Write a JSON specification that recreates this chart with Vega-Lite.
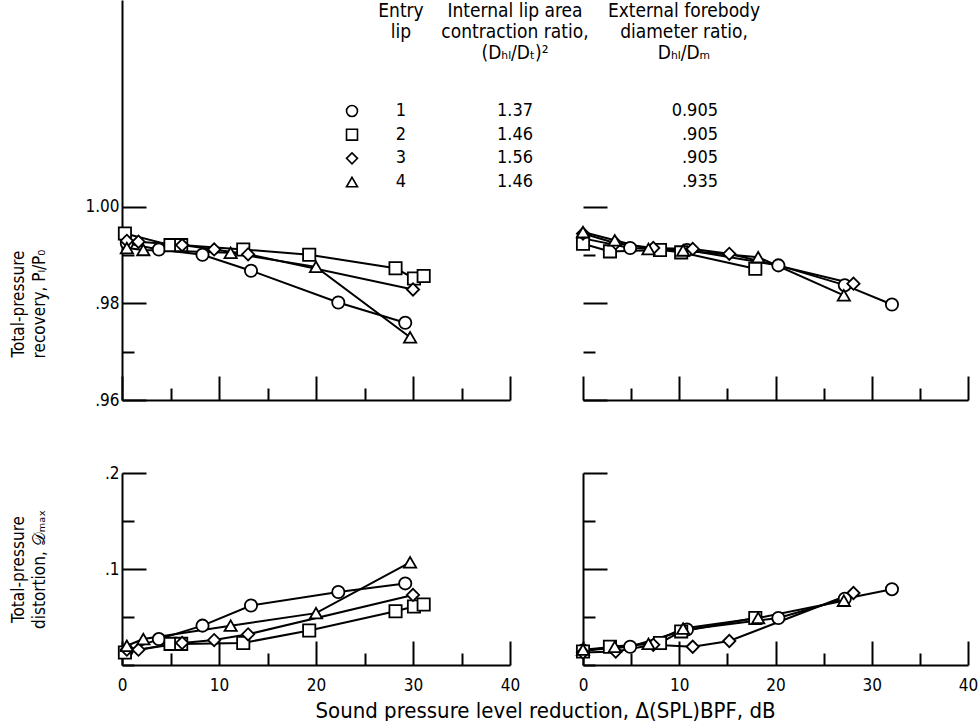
{
  "$schema": "https://vega.github.io/schema/vega-lite/v6.json",
  "autosize": {"type": "none"},
  "padding": {"left": 122, "top": 0, "right": 856, "bottom": 721},
  "config": {
    "font": "DejaVu Sans Condensed, DejaVu Sans",
    "view": {"stroke": null},
    "axis": {
      "grid": false, "domainColor": "black", "domainWidth": 2, "tickColor": "black", "tickWidth": 2,
      "labelColor": "black", "labelFontSize": 17, "titleColor": "black", "titleFontSize": 17,
      "titleFontWeight": "normal", "labelFlush": false, "labelOverlap": false, "labelBound": false,
      "labelFont": "DejaVu Sans Condensed, DejaVu Sans",
      "titleFont": "DejaVu Sans Condensed, DejaVu Sans"
    },
    "text": {"color": "black", "font": "DejaVu Sans Condensed, DejaVu Sans"}
  },
  "datasets": {
    "pts": [
      {"side": "left", "lip": 1, "spl": 0.5, "recovery": 0.9925, "distortion": 0.015},
      {"side": "left", "lip": 1, "spl": 3.8, "recovery": 0.9912, "distortion": 0.027},
      {"side": "left", "lip": 1, "spl": 8.3, "recovery": 0.9901, "distortion": 0.041},
      {"side": "left", "lip": 1, "spl": 13.3, "recovery": 0.9868, "distortion": 0.062},
      {"side": "left", "lip": 1, "spl": 22.3, "recovery": 0.9802, "distortion": 0.076},
      {"side": "left", "lip": 1, "spl": 29.2, "recovery": 0.976, "distortion": 0.085},
      {"side": "left", "lip": 2, "spl": 0.3, "recovery": 0.9945, "distortion": 0.013},
      {"side": "left", "lip": 2, "spl": 5.0, "recovery": 0.9921, "distortion": 0.022},
      {"side": "left", "lip": 2, "spl": 6.1, "recovery": 0.9921, "distortion": 0.022},
      {"side": "left", "lip": 2, "spl": 12.5, "recovery": 0.9912, "distortion": 0.023},
      {"side": "left", "lip": 2, "spl": 19.3, "recovery": 0.9901, "distortion": 0.036},
      {"side": "left", "lip": 2, "spl": 28.2, "recovery": 0.9873, "distortion": 0.056},
      {"side": "left", "lip": 2, "spl": 30.1, "recovery": 0.9852, "distortion": 0.061},
      {"side": "left", "lip": 2, "spl": 31.1, "recovery": 0.9857, "distortion": 0.063},
      {"side": "left", "lip": 3, "spl": 0.5, "recovery": 0.993, "distortion": 0.016},
      {"side": "left", "lip": 3, "spl": 1.7, "recovery": 0.9928, "distortion": 0.016},
      {"side": "left", "lip": 3, "spl": 6.2, "recovery": 0.9921, "distortion": 0.023},
      {"side": "left", "lip": 3, "spl": 9.5, "recovery": 0.9912, "distortion": 0.026},
      {"side": "left", "lip": 3, "spl": 13.0, "recovery": 0.9902, "distortion": 0.032},
      {"side": "left", "lip": 3, "spl": 30.0, "recovery": 0.9829, "distortion": 0.073},
      {"side": "left", "lip": 4, "spl": 0.5, "recovery": 0.9915, "distortion": 0.02},
      {"side": "left", "lip": 4, "spl": 2.2, "recovery": 0.9911, "distortion": 0.027},
      {"side": "left", "lip": 4, "spl": 11.2, "recovery": 0.9905, "distortion": 0.041},
      {"side": "left", "lip": 4, "spl": 20.0, "recovery": 0.9876, "distortion": 0.054},
      {"side": "left", "lip": 4, "spl": 29.7, "recovery": 0.973, "distortion": 0.107},
      {"side": "right", "lip": 1, "spl": 0.0, "recovery": 0.9935, "distortion": 0.015},
      {"side": "right", "lip": 1, "spl": 4.9, "recovery": 0.9915, "distortion": 0.019},
      {"side": "right", "lip": 1, "spl": 10.8, "recovery": 0.9911, "distortion": 0.037},
      {"side": "right", "lip": 1, "spl": 20.3, "recovery": 0.9879, "distortion": 0.049},
      {"side": "right", "lip": 1, "spl": 27.2, "recovery": 0.9838, "distortion": 0.069},
      {"side": "right", "lip": 1, "spl": 32.1, "recovery": 0.9798, "distortion": 0.079},
      {"side": "right", "lip": 2, "spl": 0.0, "recovery": 0.9924, "distortion": 0.014},
      {"side": "right", "lip": 2, "spl": 2.8, "recovery": 0.9908, "distortion": 0.019},
      {"side": "right", "lip": 2, "spl": 8.0, "recovery": 0.9911, "distortion": 0.023},
      {"side": "right", "lip": 2, "spl": 10.2, "recovery": 0.9906, "distortion": 0.035},
      {"side": "right", "lip": 2, "spl": 17.9, "recovery": 0.9872, "distortion": 0.049},
      {"side": "right", "lip": 3, "spl": 0.0, "recovery": 0.9945, "distortion": 0.013},
      {"side": "right", "lip": 3, "spl": 3.4, "recovery": 0.9925, "distortion": 0.014},
      {"side": "right", "lip": 3, "spl": 7.3, "recovery": 0.9915, "distortion": 0.021},
      {"side": "right", "lip": 3, "spl": 11.4, "recovery": 0.9913, "distortion": 0.019},
      {"side": "right", "lip": 3, "spl": 15.2, "recovery": 0.9903, "distortion": 0.025},
      {"side": "right", "lip": 3, "spl": 28.1, "recovery": 0.9841, "distortion": 0.075},
      {"side": "right", "lip": 4, "spl": 0.0, "recovery": 0.9948, "distortion": 0.016},
      {"side": "right", "lip": 4, "spl": 3.3, "recovery": 0.9931, "distortion": 0.019},
      {"side": "right", "lip": 4, "spl": 6.8, "recovery": 0.9913, "distortion": 0.022},
      {"side": "right", "lip": 4, "spl": 10.4, "recovery": 0.991, "distortion": 0.038},
      {"side": "right", "lip": 4, "spl": 18.2, "recovery": 0.9896, "distortion": 0.049},
      {"side": "right", "lip": 4, "spl": 27.1, "recovery": 0.9817, "distortion": 0.067}
    ],
    "legend": [
      {"lip": 1, "contraction": "1.37", "diameter": "0.905"},
      {"lip": 2, "contraction": "1.46", "diameter": ".905"},
      {"lip": 3, "contraction": "1.56", "diameter": ".905"},
      {"lip": 4, "contraction": "1.46", "diameter": ".935"}
    ],
    "legendHead": [
      {"col": 1, "text": "Entry\nlip"},
      {"col": 2, "text": "Internal lip area\ncontraction ratio,\n(Dₕₗ/Dₜ)²"},
      {"col": 3, "text": "External forebody\ndiameter ratio,\nDₕₗ/Dₘ"}
    ]
  },
  "columns": 2,
  "spacing": 73,
  "bounds": "flush",
  "concat": [
    {
      "width": 388, "height": 400,
      "layer": [
        {
          "data": {"name": "pts"},
          "transform": [{"filter": "datum.side === 'left'"}],
          "encoding": {
            "x": {"field": "spl", "type": "quantitative", "scale": {"domain": [0, 40], "nice": false, "zero": false},
              "axis": {"values": [0, 5, 10, 15, 20, 25, 30, 35, 40], "labels": false, "title": null,
                "tickSize": {"condition": {"test": "datum.value % 10 === 0", "value": -24}, "value": -12}}},
            "y": {"field": "recovery", "type": "quantitative", "scale": {"domain": [0.96, 1.0429], "nice": false, "zero": false},
              "axis": {"values": [0.96, 0.97, 0.98, 0.99, 1.0],
                "tickSize": {"condition": {"test": "round(datum.value*100) % 2 === 0", "value": -24}, "value": -12},
                "labelExpr": "round(datum.value*100) % 2 === 0 ? (datum.value >= 0.999 ? '1.00' : replace(format(datum.value, '.2f'), '0.', '.')) : ''",
                "labelPadding": 27,
                "title": ["Total-pressure", "recovery, Pₗ/P₀"], "titleX": -95, "titleY": 303.5, "titleLineHeight": 21}}
          },
          "layer": [
            {"mark": {"type": "line", "color": "black", "strokeWidth": 2}, "encoding": {"detail": {"field": "lip", "type": "nominal"}}},
            {"mark": {"type": "point", "filled": true, "fill": "white", "stroke": "black", "strokeWidth": 1.8, "size": 150, "opacity": 1},
              "encoding": {"shape": {"field": "lip", "type": "nominal", "scale": {"domain": [1, 2, 3, 4], "range": ["circle", "square", "diamond", "triangle-up"]}, "legend": null}}}
          ]
        },
        {
          "layer": [
            {
              "data": {"name": "legend"},
              "mark": {"type": "point", "filled": true, "fill": "white", "stroke": "black", "strokeWidth": 1.6, "size": 120, "opacity": 1},
              "encoding": {
                "x": {"datum": 0, "type": "quantitative", "scale": {"type": "linear", "domain": [0, 1, 2, 3, 4], "range": [230, 279, 393, 562, 596], "nice": false, "zero": false}, "axis": null},
                "y": {"field": "lip", "type": "quantitative", "scale": {"type": "linear", "domain": [0, 1, 4], "range": [2, 111, 182], "nice": false, "zero": false}, "axis": null},
                "shape": {"field": "lip", "type": "nominal", "scale": {"domain": [1, 2, 3, 4], "range": ["circle", "square", "diamond", "triangle-up"]}, "legend": null}
              }
            },
            {
              "data": {"name": "legend"},
              "mark": {"type": "text", "fontSize": 18, "align": "center", "baseline": "middle"},
              "encoding": {
                "x": {"datum": 1, "type": "quantitative", "axis": null},
                "y": {"field": "lip", "type": "quantitative", "axis": null},
                "text": {"field": "lip", "type": "nominal"}
              }
            },
            {
              "data": {"name": "legend"},
              "mark": {"type": "text", "fontSize": 18, "align": "center", "baseline": "middle"},
              "encoding": {
                "x": {"datum": 2, "type": "quantitative", "axis": null},
                "y": {"field": "lip", "type": "quantitative", "axis": null},
                "text": {"field": "contraction", "type": "nominal"}
              }
            },
            {
              "data": {"name": "legend"},
              "mark": {"type": "text", "fontSize": 18, "align": "right", "baseline": "middle"},
              "encoding": {
                "x": {"datum": 4, "type": "quantitative", "axis": null},
                "y": {"field": "lip", "type": "quantitative", "axis": null},
                "text": {"field": "diameter", "type": "nominal"}
              }
            },
            {
              "data": {"name": "legendHead"},
              "mark": {"type": "text", "fontSize": 19, "align": "center", "baseline": "top", "lineBreak": "\n", "lineHeight": 21},
              "encoding": {
                "x": {"field": "col", "type": "quantitative", "axis": null},
                "y": {"datum": 0, "type": "quantitative", "axis": null},
                "text": {"field": "text", "type": "nominal"}
              }
            }
          ]
        }
      ],
      "resolve": {"scale": {"x": "independent", "y": "independent"}, "axis": {"x": "independent", "y": "independent"}}
    },
    {
      "width": 385, "height": 400,
      "data": {"name": "pts"},
      "transform": [{"filter": "datum.side === 'right'"}],
      "encoding": {
        "x": {"field": "spl", "type": "quantitative", "scale": {"domain": [0, 40], "nice": false, "zero": false},
          "axis": {"values": [0, 5, 10, 15, 20, 25, 30, 35, 40], "labels": false, "title": null,
            "tickSize": {"condition": {"test": "datum.value % 10 === 0", "value": -24}, "value": -12}}},
        "y": {"field": "recovery", "type": "quantitative", "scale": {"domain": [0.96, 1.0429], "nice": false, "zero": false},
          "axis": {"values": [0.96, 0.97, 0.98, 0.99, 1.0], "labels": false, "domain": false, "title": null,
            "tickSize": {"condition": {"test": "round(datum.value*100) % 2 === 0", "value": -24}, "value": -12}}}
      },
      "layer": [
        {"data": {"values": [{}]}, "mark": {"type": "rule", "color": "black", "strokeWidth": 2},
          "encoding": {"x": {"datum": 0, "type": "quantitative"}, "y": {"datum": 0.96, "type": "quantitative"}, "y2": {"datum": 1.0}}},
        {"mark": {"type": "line", "color": "black", "strokeWidth": 2}, "encoding": {"detail": {"field": "lip", "type": "nominal"}}},
        {"mark": {"type": "point", "filled": true, "fill": "white", "stroke": "black", "strokeWidth": 1.8, "size": 150, "opacity": 1},
          "encoding": {"shape": {"field": "lip", "type": "nominal", "scale": {"domain": [1, 2, 3, 4], "range": ["circle", "square", "diamond", "triangle-up"]}, "legend": null}}}
      ]
    },
    {
      "width": 388, "height": 192,
      "data": {"name": "pts"},
      "transform": [{"filter": "datum.side === 'left'"}],
      "encoding": {
        "x": {"field": "spl", "type": "quantitative", "scale": {"domain": [0, 40], "nice": false, "zero": false},
          "axis": {"values": [0, 5, 10, 15, 20, 25, 30, 35, 40],
            "labelExpr": "datum.value % 10 === 0 ? datum.label : ''", "labelPadding": 36,
            "tickSize": {"condition": {"test": "datum.value % 10 === 0", "value": -24}, "value": -12},
            "title": "Sound pressure level reduction, Δ(SPL)BPF, dB", "titleX": 423, "titleY": 45,
            "titleAlign": "center", "titleBaseline": "middle", "titleFontSize": 22}},
        "y": {"field": "distortion", "type": "quantitative", "scale": {"domain": [0, 0.2], "nice": false, "zero": false},
          "axis": {"values": [0, 0.05, 0.1, 0.15, 0.2],
            "tickSize": {"condition": {"test": "abs(datum.value-0.1) < 0.000001 || abs(datum.value-0.2) < 0.000001", "value": -24}, "value": -12},
            "labelExpr": "abs(datum.value-0.1) < 0.000001 ? '.1' : (abs(datum.value-0.2) < 0.000001 ? '.2' : '')",
            "labelPadding": 27,
            "title": ["Total-pressure", "distortion, 𝒟ₘₐₓ"], "titleX": -95, "titleY": 96, "titleLineHeight": 21}}
      },
      "layer": [
        {"mark": {"type": "line", "color": "black", "strokeWidth": 2}, "encoding": {"detail": {"field": "lip", "type": "nominal"}}},
        {"mark": {"type": "point", "filled": true, "fill": "white", "stroke": "black", "strokeWidth": 1.8, "size": 150, "opacity": 1},
          "encoding": {"shape": {"field": "lip", "type": "nominal", "scale": {"domain": [1, 2, 3, 4], "range": ["circle", "square", "diamond", "triangle-up"]}, "legend": null}}}
      ]
    },
    {
      "width": 385, "height": 192,
      "data": {"name": "pts"},
      "transform": [{"filter": "datum.side === 'right'"}],
      "encoding": {
        "x": {"field": "spl", "type": "quantitative", "scale": {"domain": [0, 40], "nice": false, "zero": false},
          "axis": {"values": [0, 5, 10, 15, 20, 25, 30, 35, 40],
            "labelExpr": "datum.value % 10 === 0 ? datum.label : ''", "labelPadding": 36,
            "tickSize": {"condition": {"test": "datum.value % 10 === 0", "value": -24}, "value": -12},
            "title": null}},
        "y": {"field": "distortion", "type": "quantitative", "scale": {"domain": [0, 0.2], "nice": false, "zero": false},
          "axis": {"values": [0, 0.05, 0.1, 0.15, 0.2], "labels": false, "title": null,
            "tickSize": {"condition": {"test": "abs(datum.value-0.1) < 0.000001 || abs(datum.value-0.2) < 0.000001", "value": -24}, "value": -12}}}
      },
      "layer": [
        {"mark": {"type": "line", "color": "black", "strokeWidth": 2}, "encoding": {"detail": {"field": "lip", "type": "nominal"}}},
        {"mark": {"type": "point", "filled": true, "fill": "white", "stroke": "black", "strokeWidth": 1.8, "size": 150, "opacity": 1},
          "encoding": {"shape": {"field": "lip", "type": "nominal", "scale": {"domain": [1, 2, 3, 4], "range": ["circle", "square", "diamond", "triangle-up"]}, "legend": null}}}
      ]
    }
  ]
}
